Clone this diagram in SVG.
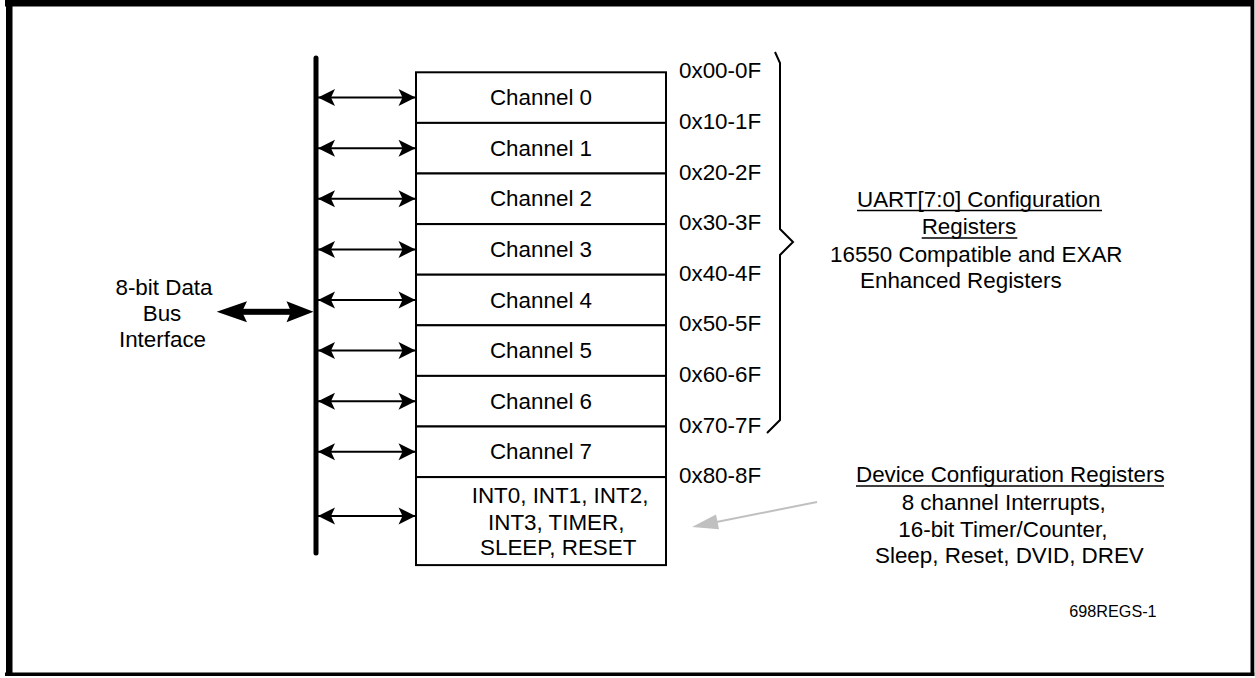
<svg xmlns="http://www.w3.org/2000/svg" width="1255" height="678" viewBox="0 0 1255 678">
<style>
text{font-family:"Liberation Sans",Arial,sans-serif;font-size:22.4px;fill:#000}
.c{text-anchor:middle}
.box{fill:#fff;stroke:#000;stroke-width:2}
.link{stroke:#000;stroke-width:2;fill:none;marker-start:url(#ah);marker-end:url(#ah)}
.ul{stroke:#000;stroke-width:1.5}
</style>
<defs>
<marker id="ah" viewBox="-18 -10 19 20" markerWidth="19" markerHeight="20" refX="0" refY="0" orient="auto-start-reverse" markerUnits="userSpaceOnUse">
<path d="M0,0 L-17,-8.5 L-13,0 L-17,8.5 Z" fill="#000"/>
</marker>
</defs>
<rect width="1255" height="678" fill="#fff"/>
<g id="frame" fill="#000">
<rect x="5" y="0" width="1249" height="6.5"/>
<rect x="6" y="0" width="6.5" height="676"/>
<rect x="1250.5" y="0" width="3.8" height="676"/>
<rect x="5" y="672.5" width="1249.3" height="3.5"/>
</g>
<g id="bus-label">
<text class="c" x="164" y="295">8-bit Data</text>
<text class="c" x="162" y="321">Bus</text>
<text class="c" x="162.5" y="347">Interface</text>
</g>
<g id="bus">
<line x1="316" y1="58" x2="316" y2="553" stroke="#000" stroke-width="5" stroke-linecap="round"/>
</g>
<g id="ch0"><rect class="box" x="416" y="72.3" width="250" height="50.6"/><text class="c" x="541" y="105.1">Channel 0</text></g>
<g id="ch1"><rect class="box" x="416" y="122.9" width="250" height="50.6"/><text class="c" x="541" y="155.7">Channel 1</text></g>
<g id="ch2"><rect class="box" x="416" y="173.5" width="250" height="50.6"/><text class="c" x="541" y="206.3">Channel 2</text></g>
<g id="ch3"><rect class="box" x="416" y="224.1" width="250" height="50.6"/><text class="c" x="541" y="256.9">Channel 3</text></g>
<g id="ch4"><rect class="box" x="416" y="274.7" width="250" height="50.6"/><text class="c" x="541" y="307.5">Channel 4</text></g>
<g id="ch5"><rect class="box" x="416" y="325.3" width="250" height="50.6"/><text class="c" x="541" y="358.1">Channel 5</text></g>
<g id="ch6"><rect class="box" x="416" y="375.9" width="250" height="50.6"/><text class="c" x="541" y="408.7">Channel 6</text></g>
<g id="ch7"><rect class="box" x="416" y="426.5" width="250" height="50.6"/><text class="c" x="541" y="459.3">Channel 7</text></g>
<g id="devregs"><rect class="box" x="416" y="477.1" width="250" height="88"/>
<text x="471.7" y="503.3">INT0, INT1, INT2,</text>
<text x="488" y="530">INT3, TIMER,</text>
<text x="480" y="555">SLEEP, RESET</text>
</g>
<g id="addresses">
<text x="679" y="78.3">0x00-0F</text>
<text x="679" y="128.9">0x10-1F</text>
<text x="679" y="179.5">0x20-2F</text>
<text x="679" y="230.1">0x30-3F</text>
<text x="679" y="280.7">0x40-4F</text>
<text x="679" y="331.3">0x50-5F</text>
<text x="679" y="381.9">0x60-6F</text>
<text x="679" y="432.5">0x70-7F</text>
<text x="679" y="483.1">0x80-8F</text>
</g>
<g id="brace">
<path d="M775,52 L780,63 L780,229 L793,242 L780,255 L780,420 L767,433" fill="none" stroke="#000" stroke-width="2" stroke-linejoin="miter"/>
</g>
<g id="uart-label">
<text x="857" y="207">UART[7:0] Configuration</text>
<line class="ul" x1="857" y1="210.5" x2="1102" y2="210.5"/>
<text x="921.7" y="234.3">Registers</text>
<line class="ul" x1="921.7" y1="238" x2="1017.3" y2="238"/>
<text x="830" y="261.7">16550 Compatible and EXAR</text>
<text x="860" y="288.3">Enhanced Registers</text>
</g>
<g id="device-label">
<text x="856" y="482.3">Device Configuration Registers</text>
<line class="ul" x1="856" y1="486" x2="1164" y2="486"/>
<text x="901.7" y="510">8 channel Interrupts,</text>
<text x="898.3" y="537.3">16-bit Timer/Counter,</text>
<text x="875" y="563.3">Sleep, Reset, DVID, DREV</text>
</g>
<g id="figid">
<text x="1069.3" y="616.7" style="font-size:16.2px">698REGS-1</text>
</g>
<g id="connectors">
<line class="link" x1="318" y1="97.6" x2="415.5" y2="97.6"/>
<line class="link" x1="318" y1="148.2" x2="415.5" y2="148.2"/>
<line class="link" x1="318" y1="198.8" x2="415.5" y2="198.8"/>
<line class="link" x1="318" y1="249.4" x2="415.5" y2="249.4"/>
<line class="link" x1="318" y1="300" x2="415.5" y2="300"/>
<line class="link" x1="318" y1="350.6" x2="415.5" y2="350.6"/>
<line class="link" x1="318" y1="401.2" x2="415.5" y2="401.2"/>
<line class="link" x1="318" y1="451.8" x2="415.5" y2="451.8"/>
<line class="link" x1="318" y1="516" x2="415.5" y2="516"/>
<g id="bus-arrow" fill="#000">
<rect x="240" y="308.8" width="52" height="6"/>
<path d="M216.7,311.8 L247,301.3 L242,311.8 L247,322.3 Z"/>
<path d="M313.5,311.8 L286.5,301.3 L291,311.8 L286.5,322.3 Z"/>
</g>
<g id="dev-arrow">
<line x1="817" y1="502" x2="714" y2="522.5" stroke="#c0c0c0" stroke-width="2"/>
<path d="M692,527 L716,514.5 L719,529.3 Z" fill="#c0c0c0"/>
</g>
</g>
</svg>
